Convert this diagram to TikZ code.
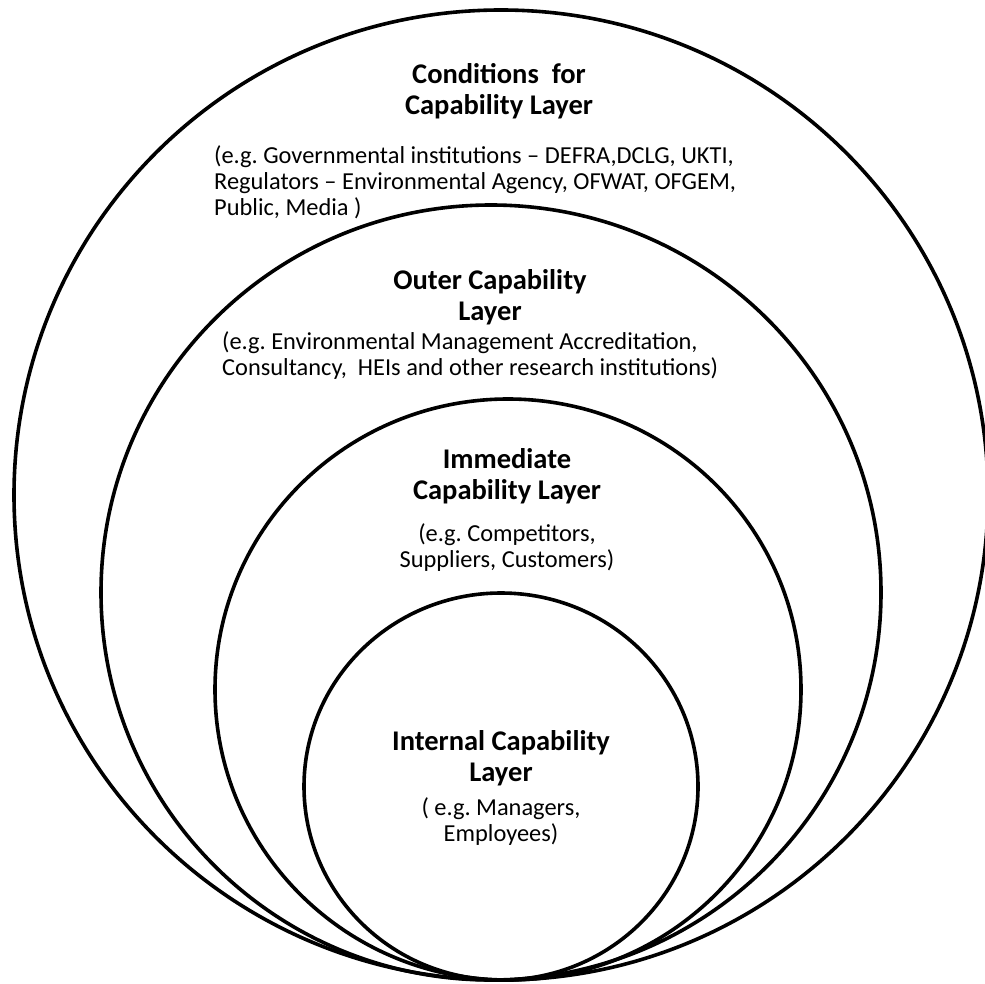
\documentclass[tikz,border=0pt]{standalone}
\usepackage{fontspec}
\setmainfont{Carlito}
\frenchspacing
\tikzset{
  layer/.style={line width=3.6pt},
  head/.style={font=\fontsize{28.5}{31}\selectfont\bfseries, align=center},
  note/.style={font=\fontsize{24.4}{26}\selectfont, inner sep=0pt},
}
\begin{document}
\begin{tikzpicture}[x=1pt,y=-1pt]
				\useasboundingbox (0,0) rectangle (985,984);
				% layers, all touching at the bottom
				\draw[layer] (501,495) ellipse (487pt and 485pt);
				\draw[layer] (491,592.5) ellipse (390pt and 387.5pt);
				\draw[layer] (508,689.5) ellipse (293pt and 290.5pt);
				\draw[layer] (501,786.5) ellipse (197pt and 193.5pt);
				%--
				\node[head] (condhead) at (499,91.5) {Conditions\ \ for\\Capability Layer};
				\node[note, align=left, anchor=north west] (condnote) at (214,145.5)
					{(e.g. Governmental institutions -- DEFRA,DCLG, UKTI,\\Regulators -- Environmental Agency, OFWAT, OFGEM,\\Public, Media )};
				%--
				\node[head] (outerhead) at (490,297.5) {Outer Capability\\Layer};
				\node[note, align=left, anchor=north west] (outernote) at (222,331.5)
					{(e.g. Environmental Management Accreditation,\\Consultancy,\ \ HEIs and other research institutions)};
				%--
				\node[head] (immhead) at (507,476) {Immediate\\Capability Layer};
				\node[note, align=center] (immnote) at (507,547.5) {(e.g. Competitors,\\Suppliers, Customers)};
				%--
				\node[head] (inthead) at (501,758) {Internal Capability\\Layer};
				\node[note, align=center] (intnote) at (501,822) {( e.g. Managers,\\Employees)};
\end{tikzpicture}
\end{document}
